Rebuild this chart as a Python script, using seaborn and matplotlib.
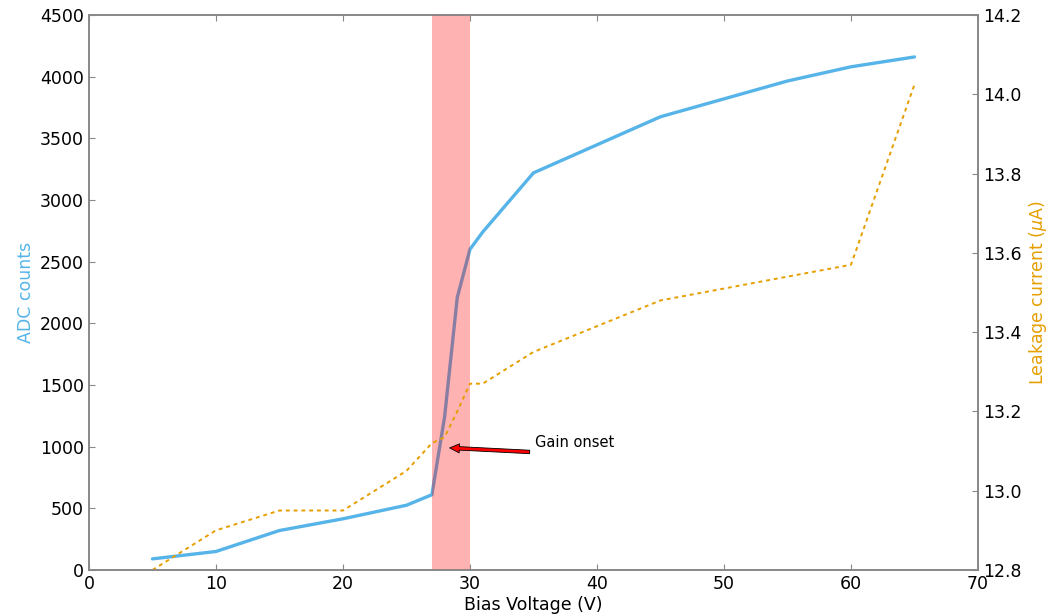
import matplotlib
matplotlib.use("Agg")
import matplotlib.pyplot as plt
import seaborn as sns
import pandas as pd

sns.set_style("white")
plt.rcParams['font.family'] = ['DejaVu Sans']
plt.rcParams['text.color'] = 'black'
plt.rcParams['axes.labelcolor'] = 'black'

voltage_adc = [5, 10, 15, 20, 25, 27, 28, 29, 30, 31, 35, 45, 55, 60, 65]
adc_counts = [90, 150, 320, 415, 525, 610, 1240, 2210, 2600, 2740, 3220, 3675, 3965, 4080, 4160]

voltage_leak = [5, 10, 15, 20, 25, 27, 28, 29, 30, 31, 35, 45, 55, 60, 65]
leak_current = [12.80, 12.90, 12.95, 12.95, 13.05, 13.12, 13.135, 13.20, 13.27, 13.27, 13.35, 13.48, 13.54, 13.57, 14.025]

onset_range = (27, 30)
annot_text = "Gain onset"
arrow_tip = (28.4, 990)
arrow_tail = (34.7, 957)
text_pos = (35.1, 1030)

blue = "#56B4E9"
orange = "#E69F00"
spine_gray = "#888888"

fig = plt.figure(figsize=(10.54, 6.15), dpi=100)
ax1 = fig.add_axes([0.0844, 0.0732, 0.8435, 0.9024])
ax2 = ax1.twinx()

df1 = pd.DataFrame({"v": voltage_adc, "adc": adc_counts})
df2 = pd.DataFrame({"v": voltage_leak, "leak": leak_current})

sns.lineplot(data=df1, x="v", y="adc", ax=ax1, color=blue, linewidth=2.4, zorder=2)
ax1.axvspan(onset_range[0], onset_range[1], color="red", alpha=0.3, lw=0, zorder=3)
sns.lineplot(data=df2, x="v", y="leak", ax=ax2, color=orange, linewidth=1.4, zorder=2)
ax2.get_lines()[0].set_dashes((2, 2))

ax1.set_xlim(0, 70)
ax1.set_ylim(0, 4500)
ax2.set_ylim(12.8, 14.2)
ax1.set_xticks(range(0, 71, 10))
ax1.set_yticks(range(0, 4501, 500))
rticks = [12.8, 13.0, 13.2, 13.4, 13.6, 13.8, 14.0, 14.2]
ax2.set_yticks(rticks)
ax2.set_yticklabels([f"{t:.1f}" for t in rticks])

ax1.set_xlabel("Bias Voltage (V)", fontsize=12.5, labelpad=2, color="black")
ax1.set_ylabel("ADC counts", fontsize=12.5, color=blue)
ax2.set_ylabel(r"Leakage current ($\mu$A)", fontsize=12.5, color=orange)

for ax in (ax1, ax2):
    for s in ax.spines.values():
        s.set_color(spine_gray)
        s.set_linewidth(1.2)
        s.set_visible(True)

ax1.tick_params(axis="both", which="major", direction="in", length=4, color=spine_gray,
                labelsize=12.5, labelcolor="black", left=True, bottom=True, top=True, right=False)
ax2.tick_params(axis="y", direction="in", length=4, color=spine_gray,
                labelsize=12.5, labelcolor="black", right=True, left=False)

ax1.annotate("", xy=arrow_tip, xytext=arrow_tail,
             arrowprops=dict(facecolor="red", edgecolor="black", shrink=0.0, width=2.5,
                             headwidth=6.5, headlength=7, lw=0.6))
ax1.text(text_pos[0], text_pos[1], annot_text, fontsize=10.5, va="center", ha="left", color="black")

fig.savefig("out.png", dpi=100)
